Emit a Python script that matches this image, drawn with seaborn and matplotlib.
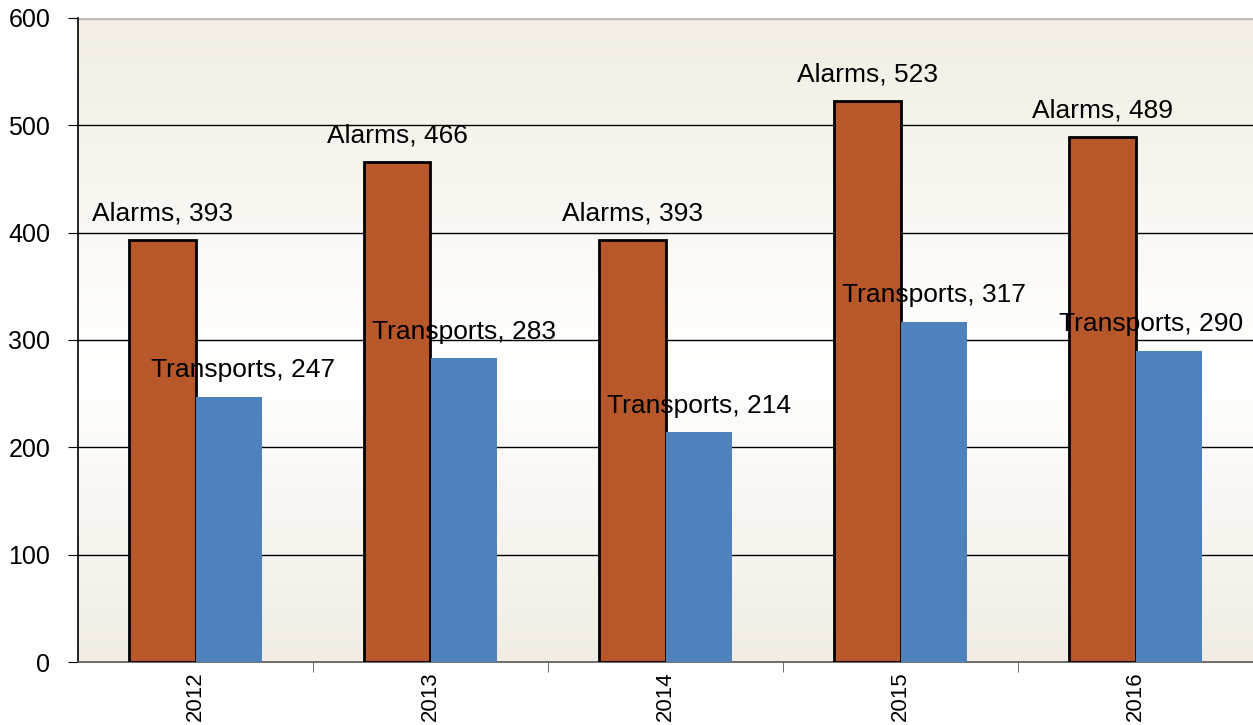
import numpy as np
import pandas as pd
import matplotlib
matplotlib.use("Agg")
import matplotlib.pyplot as plt
import seaborn as sns

years = ["2012", "2013", "2014", "2015", "2016"]
alarms = [393, 466, 393, 523, 489]
transports = [247, 283, 214, 317, 290]

df = pd.DataFrame({
    "year": years * 2,
    "series": ["Alarms"] * 5 + ["Transports"] * 5,
    "value": alarms + transports,
})

sns.set_style("white")
plt.rcParams["font.family"] = ["Liberation Sans", "DejaVu Sans"]
plt.rcParams["text.color"] = "black"
plt.rcParams["xtick.color"] = "black"
plt.rcParams["ytick.color"] = "black"

fig = plt.figure(figsize=(12.53, 7.25), dpi=100)
ax = fig.add_axes([78 / 1253, 1 - 662 / 725, 1175 / 1253, 644 / 725])

# beige - white - beige background gradient
top = np.array([242, 238, 227]) / 255
mid = np.array([255, 255, 255]) / 255
bot = np.array([241, 237, 228]) / 255
t = np.linspace(0, 1, 256)[:, None]
grad = np.where(t < 0.55, top + (mid - top) * (t / 0.55), mid + (bot - mid) * ((t - 0.55) / 0.45))
ax.imshow(grad[:, None, :], extent=[-0.5, 4.5, 0, 600], aspect="auto", zorder=0)

sns.barplot(data=df, x="year", y="value", hue="series",
            palette={"Alarms": "#B8572A", "Transports": "#4F81BD"},
            width=0.57, gap=0, saturation=1, legend=False, ax=ax, zorder=3)

for p in ax.patches[:5]:
    p.set_edgecolor("black")
    p.set_linewidth(2)
for p in ax.patches[5:]:
    p.set_linewidth(0)
for p in ax.patches:
    p.set_zorder(3)

fs = 19
for i, v in enumerate(alarms):
    ax.annotate(f"Alarms, {v}", (i - 0.1425, v), xytext=(0, 19), textcoords="offset points",
                ha="center", va="center", fontsize=fs, zorder=5)
# small nudges so labels stay inside the plot, as in the original
nudge = [10, 0, 0, 0, -13]
for i, v in enumerate(transports):
    ax.annotate(f"Transports, {v}", (i + 0.1425, v), xytext=(nudge[i], 19), textcoords="offset points",
                ha="center", va="center", fontsize=fs, zorder=5)

ax.set_xlim(-0.5, 4.5)
ax.set_ylim(0, 600)
ax.set_yticks(range(0, 601, 100))
for y in range(100, 600, 100):
    ax.axhline(y, color="black", lw=1, zorder=1)
ax.axhline(600, color="#BDBDBD", lw=2.5, zorder=1)

ax.set_xlabel("")
ax.set_ylabel("")
ax.set_xticks(range(5))
ax.set_xticklabels(years, rotation=90, fontsize=16)
ax.set_xticks([0.5, 1.5, 2.5, 3.5], minor=True)
ax.tick_params(axis="x", which="major", length=0, pad=7)
ax.tick_params(axis="x", which="minor", length=7, color="#555555", direction="out", bottom=True)
ax.tick_params(axis="y", length=7, direction="out", left=True, labelsize=18, color="black", pad=13)

for s in ["top", "right"]:
    ax.spines[s].set_visible(False)
ax.spines["left"].set_color("black")
ax.spines["left"].set_linewidth(1.2)
ax.spines["bottom"].set_color("#555555")
ax.spines["bottom"].set_linewidth(1.2)

fig.savefig("out.png", dpi=100)
